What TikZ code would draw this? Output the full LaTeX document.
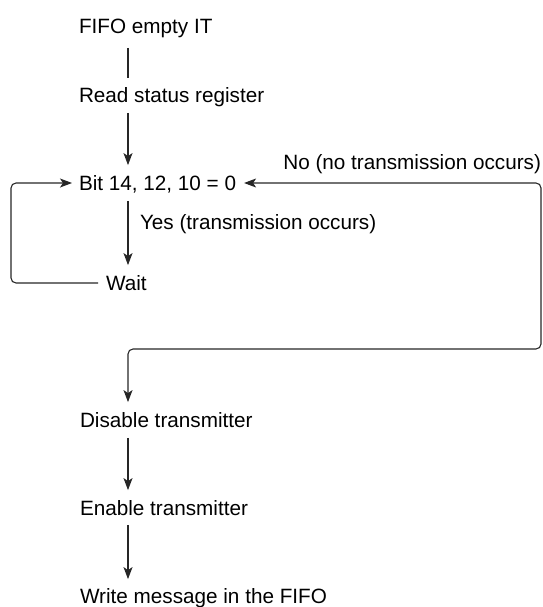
\documentclass[tikz,border=0pt]{standalone}
\usepackage{fontspec}
\setmainfont{Liberation Sans}
\usetikzlibrary{arrows.meta}
\begin{document}
\begin{tikzpicture}[x=1pt,y=-1pt,
  lbl/.style={anchor=west,inner xsep=0pt,inner ysep=10.5pt,outer sep=0pt,
    font=\fontsize{20.7pt}{24pt}\selectfont,text height=14.8pt,text depth=0pt},
  conn/.style={line width=1.1pt,color=black!85},
  tip/.tip={Stealth[length=12pt,width=9pt,inset=3pt]},
  arr/.style={conn,-tip},
  biarr/.style={conn,tip-tip,rounded corners=5pt}]
\useasboundingbox (0,0) rectangle (542,607);
\coordinate (mid) at (128,0);
\coordinate (lft) at (11,0);
\coordinate (rgt) at (541,0);
\coordinate (low) at (0,349);
\node[lbl] (fifo) at (79,26) {FIFO empty IT};
\node[lbl] (read) at (79,95) {Read status register};
\node[lbl] (bit) at (79,183) {Bit 14, 12, 10 = 0};
\node[lbl] (wait) at (106,283) {Wait};
\node[lbl] (dis) at (80,420) {Disable transmitter};
\node[lbl] (ena) at (80,508) {Enable transmitter};
\node[lbl] (wri) at (80,596) {Write message in the FIFO};
\node[lbl,anchor=east] (no) at (541,162) {No (no transmission occurs)};
\node[lbl] (yes) at (140,222) {Yes (transmission occurs)};
\draw[conn] ([yshift=-4pt]fifo.south -| mid) -- ([yshift=-1pt]read.north -| mid);
\draw[arr] (read.south -| mid) -- (bit.north -| mid);
\draw[arr] (bit.south -| mid) -- (wait.north -| mid);
\draw[arr,rounded corners=5pt] ([xshift=-8pt]wait.west) -- (wait.west -| lft) -- (bit.west -| lft) -- ([xshift=-7pt]bit.west);
\draw[biarr] ([xshift=8pt]bit.east) -- (bit.east -| rgt) -- (low -| rgt) -- (low -| mid) -- (dis.north -| mid);
\draw[arr] (dis.south -| mid) -- (ena.north -| mid);
\draw[arr] ([yshift=1pt]ena.south -| mid) -- ([yshift=-1pt]wri.north -| mid);
\end{tikzpicture}
\end{document}
